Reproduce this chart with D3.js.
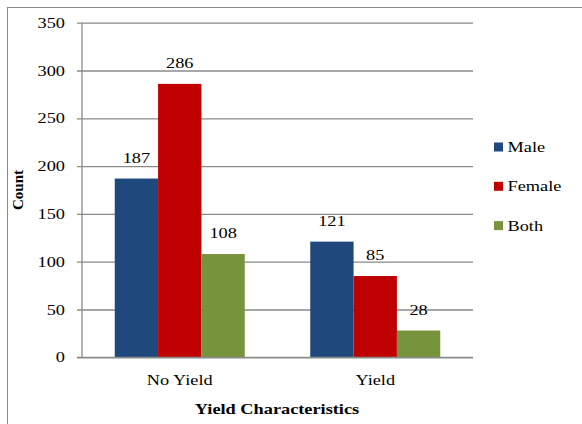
<!DOCTYPE html>
<html>
<head>
<meta charset="utf-8">
<script src="https://cdn.jsdelivr.net/npm/d3@7/dist/d3.min.js"></script>
<style>
  html, body { margin: 0; padding: 0; background: #fff; }
  svg { display: block; }
</style>
</head>
<body>
<svg id="chart" width="582" height="424"></svg>
<script>
const categories = ["No Yield", "Yield"];
const seriesNames = ["Male", "Female", "Both"];
const male = [187, 121];
const female = [286, 85];
const both = [108, 28];
const yTicks = [0, 50, 100, 150, 200, 250, 300, 350];
const colors = ["#1F497D", "#C00000", "#77933C"];

const seriesValues = [male, female, both];
const FONT = "'Liberation Serif', 'Times New Roman', serif";
const WIDEN = 1.22;   // glyphs are drawn slightly widened
const svg = d3.select("#chart");

// place a widened serif label at (px, py)
function label(parent, px, py, str, anchor, opts = {}) {
  return parent.append("text")
    .attr("transform", `translate(${px},${py}) scale(${WIDEN},1)`)
    .attr("text-anchor", anchor)
    .attr("font-family", FONT)
    .attr("font-size", opts.size || 15)
    .attr("font-weight", opts.weight || "normal")
    .attr("fill", "#000")
    .text(str);
}

// outer frame
svg.append("rect")
  .attr("x", 7.5).attr("y", 7.5)
  .attr("width", 590).attr("height", 430)
  .attr("fill", "none").attr("stroke", "#8a8a8a").attr("stroke-width", 1);

const plot = { left: 82, right: 473, top: 22.7, bottom: 357.3 };

const x = d3.scaleBand().domain(categories).range([plot.left, plot.right]).paddingInner(0.335).paddingOuter(0.1675);
const xs = d3.scaleBand().domain(seriesNames).range([0, x.bandwidth()]);
const y = d3.scaleLinear().domain([0, 350]).range([plot.bottom, plot.top]);

// gridlines with short ticks
const yAxis = d3.axisLeft(y).tickValues(yTicks).tickSize(-(plot.right - plot.left)).tickFormat("");
const gy = svg.append("g").attr("transform", `translate(${plot.left},0)`).call(yAxis);
gy.select(".domain").remove();
gy.selectAll(".tick line").attr("stroke", "#8a8a8a").attr("stroke-width", 1.3).attr("x1", -5);
gy.selectAll(".tick text").remove();

// y tick labels
yTicks.forEach(t => label(svg, 65, y(t) + 5, String(t), "end"));

svg.append("line")
  .attr("x1", plot.left).attr("x2", plot.left)
  .attr("y1", plot.top).attr("y2", plot.bottom)
  .attr("stroke", "#8a8a8a").attr("stroke-width", 1.3);

// bars with value labels
categories.forEach((c, ci) => {
  seriesNames.forEach((s, si) => {
    const v = seriesValues[si][ci];
    const bx = x(c) + xs(s);
    svg.append("rect")
      .attr("x", bx)
      .attr("width", xs.bandwidth())
      .attr("y", y(v))
      .attr("height", y(0) - y(v))
      .attr("fill", colors[si]);
    label(svg, bx + xs.bandwidth() / 2, y(v) - 16, String(v), "middle");
  });
});

// baseline drawn over bars
svg.append("line")
  .attr("x1", plot.left - 5).attr("x2", plot.right)
  .attr("y1", y(0)).attr("y2", y(0))
  .attr("stroke", "#8a8a8a").attr("stroke-width", 1.3);

// category labels
categories.forEach(c => label(svg, x(c) + x.bandwidth() / 2, 385, c, "middle"));

// axis titles
label(svg, 277, 414, "Yield Characteristics", "middle", { weight: "bold" });

svg.append("text")
  .attr("transform", "translate(23,190) rotate(-90)")
  .attr("text-anchor", "middle")
  .attr("font-family", FONT)
  .attr("font-size", 15).attr("font-weight", "bold")
  .text("Count");

// legend
seriesNames.forEach((s, i) => {
  const cy = 147 + i * 39.3;
  svg.append("rect")
    .attr("x", 494).attr("y", cy - 4.5)
    .attr("width", 9).attr("height", 9)
    .attr("fill", colors[i]);
  label(svg, 507.5, cy + 5, s, "start");
});
</script>
</body>
</html>
